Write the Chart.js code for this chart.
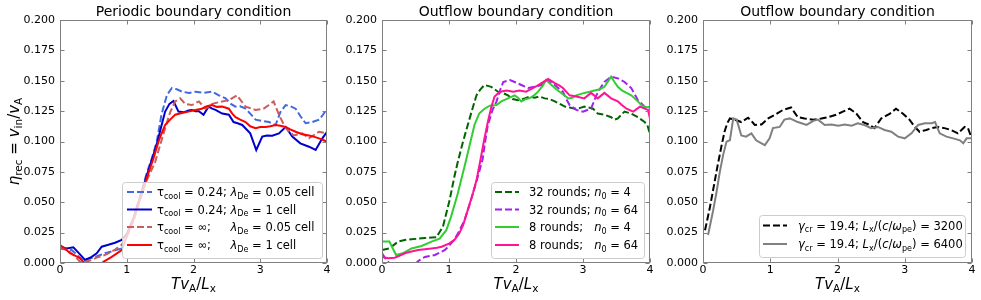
<!DOCTYPE html>
<html>
<head>
<meta charset="utf-8">
<script src="https://cdn.jsdelivr.net/npm/chart.js@4.4.0/dist/chart.umd.min.js"></script>
<style>
  body { margin: 0; background: #fff; }
  #wrap { position: relative; width: 981px; height: 300px; }
  canvas { position: absolute; top: 0; }
</style>
</head>
<body>
<div id="wrap">
  <canvas id="c1" width="332" height="300" style="left:0px"></canvas>
  <canvas id="c2" width="323" height="300" style="left:332px"></canvas>
  <canvas id="c3" width="326" height="300" style="left:655px"></canvas>
</div>
<script>
// axis ticks shared by all three panels
const xTicks = [0, 1, 2, 3, 4];
const yTicks = [0, 0.025, 0.05, 0.075, 0.1, 0.125, 0.15, 0.175, 0.2];

// ---- panel 1: periodic boundary ([T vA/Lx, eta_rec]) ----
const perCool005 = [[0,0.012],[0.1,0.011],[0.175,0.0107],[0.25,0.007],[0.325,0.0025],[0.4,0.003],[0.475,0.004],[0.575,0.006],[0.675,0.008],[0.8,0.010],[0.925,0.012],[1.0,0.022],[1.1,0.036],[1.2,0.055],[1.3,0.074],[1.375,0.086],[1.45,0.1],[1.52,0.122],[1.6,0.138],[1.675,0.144],[1.75,0.143],[1.83,0.141],[1.93,0.14],[2.03,0.141],[2.15,0.14],[2.28,0.141],[2.38,0.138],[2.48,0.1355],[2.56,0.131],[2.63,0.1287],[2.7,0.129],[2.78,0.127],[2.85,0.123],[2.93,0.118],[3.03,0.117],[3.13,0.116],[3.23,0.1136],[3.3,0.124],[3.38,0.130],[3.45,0.129],[3.53,0.127],[3.6,0.121],[3.68,0.115],[3.78,0.116],[3.88,0.118],[3.94,0.122],[4.0,0.127]];
const perCool1 = [[0,0.0134],[0.1,0.012],[0.2,0.0129],[0.275,0.0085],[0.375,0.0025],[0.475,0.005],[0.55,0.008],[0.625,0.0134],[0.725,0.015],[0.825,0.0167],[0.925,0.019],[1.0,0.024],[1.1,0.037],[1.2,0.054],[1.3,0.072],[1.4,0.089],[1.46,0.1],[1.52,0.113],[1.575,0.1246],[1.64,0.131],[1.70,0.1333],[1.775,0.1246],[1.85,0.124],[1.925,0.1255],[1.975,0.126],[2.03,0.125],[2.08,0.125],[2.15,0.122],[2.225,0.1287],[2.28,0.127],[2.33,0.126],[2.43,0.123],[2.53,0.122],[2.60,0.116],[2.66,0.115],[2.73,0.1136],[2.85,0.1067],[2.94,0.093],[3.03,0.104],[3.1,0.105],[3.18,0.1048],[3.28,0.1067],[3.38,0.112],[3.43,0.108],[3.48,0.104],[3.6,0.0985],[3.73,0.0957],[3.83,0.093],[3.93,0.1026],[4.0,0.108]];
const perInf005 = [[0,0.0134],[0.1,0.011],[0.175,0.008],[0.25,0.004],[0.3,0.001],[0.35,0.0005],[0.45,0.002],[0.575,0.005],[0.65,0.006],[0.725,0.008],[0.825,0.011],[0.925,0.015],[1.0,0.022],[1.1,0.034],[1.2,0.052],[1.3,0.068],[1.425,0.083],[1.5,0.097],[1.575,0.111],[1.65,0.124],[1.725,0.133],[1.8,0.1355],[1.875,0.131],[1.975,0.130],[2.08,0.133],[2.18,0.127],[2.28,0.131],[2.43,0.133],[2.53,0.134],[2.65,0.138],[2.72,0.133],[2.78,0.1287],[2.93,0.126],[3.05,0.127],[3.13,0.13],[3.2,0.133],[3.28,0.122],[3.38,0.111],[3.5,0.105],[3.63,0.1067],[3.73,0.1026],[3.88,0.108],[4.0,0.1067]];
const perInf1 = [[0,0.0148],[0.075,0.012],[0.15,0.008],[0.225,0.006],[0.3,0.004],[0.35,0.001],[0.4,-0.003],[0.5,-0.004],[0.6,-0.002],[0.65,0.001],[0.775,0.005],[0.925,0.0107],[1.0,0.0217],[1.1,0.036],[1.2,0.053],[1.3,0.07],[1.4,0.086],[1.475,0.0999],[1.525,0.107],[1.575,0.1136],[1.65,0.118],[1.725,0.122],[1.825,0.1235],[1.925,0.1246],[2.03,0.126],[2.125,0.127],[2.2,0.129],[2.275,0.130],[2.35,0.1285],[2.43,0.1287],[2.53,0.127],[2.58,0.123],[2.63,0.120],[2.7,0.118],[2.78,0.116],[2.85,0.1125],[2.93,0.111],[3.0,0.112],[3.08,0.112],[3.15,0.1125],[3.23,0.1136],[3.3,0.113],[3.38,0.112],[3.45,0.11],[3.53,0.108],[3.63,0.106],[3.73,0.105],[3.8,0.104],[3.88,0.1026],[3.95,0.101],[4.0,0.0999]];

// ---- panel 2: outflow boundary, rounds / n0 ----
const out32n4 = [[0,0.0107],[0.11,0.012],[0.24,0.0176],[0.34,0.019],[0.44,0.0195],[0.54,0.02],[0.64,0.0206],[0.74,0.021],[0.81,0.0211],[0.91,0.030],[1.01,0.052],[1.08,0.071],[1.13,0.083],[1.2,0.098],[1.28,0.1136],[1.35,0.127],[1.41,0.138],[1.47,0.143],[1.53,0.1465],[1.63,0.145],[1.73,0.141],[1.8,0.14],[1.88,0.138],[1.95,0.135],[2.03,0.134],[2.13,0.1355],[2.2,0.137],[2.28,0.136],[2.35,0.137],[2.43,0.1355],[2.5,0.135],[2.58,0.133],[2.65,0.131],[2.73,0.1287],[2.8,0.128],[2.88,0.127],[2.95,0.1275],[3.02,0.1287],[3.08,0.128],[3.15,0.127],[3.22,0.123],[3.32,0.122],[3.42,0.120],[3.47,0.118],[3.52,0.119],[3.57,0.122],[3.62,0.1246],[3.72,0.123],[3.82,0.120],[3.87,0.118],[3.92,0.116],[3.96,0.1136],[4.0,0.106]];
const out32n64 = [[0,0.008],[0.065,0.0025],[0.14,-0.002],[0.3,-0.004],[0.49,-0.001],[0.55,0.002],[0.64,0.005],[0.79,0.0066],[0.94,0.0107],[1.08,0.019],[1.15,0.026],[1.23,0.035],[1.33,0.052],[1.43,0.071],[1.5,0.085],[1.54,0.1],[1.58,0.1136],[1.65,0.126],[1.71,0.133],[1.76,0.142],[1.81,0.149],[1.91,0.1506],[1.98,0.149],[2.08,0.1465],[2.18,0.144],[2.28,0.145],[2.38,0.1465],[2.45,0.1506],[2.52,0.149],[2.58,0.1465],[2.65,0.143],[2.70,0.141],[2.75,0.135],[2.80,0.130],[2.90,0.126],[3.0,0.1246],[3.12,0.127],[3.2,0.138],[3.26,0.144],[3.32,0.149],[3.42,0.1534],[3.52,0.152],[3.62,0.149],[3.72,0.144],[3.77,0.139],[3.82,0.134],[3.92,0.1287],[4.0,0.127]];
const out8n4 = [[0,0.0176],[0.11,0.0176],[0.21,0.0066],[0.31,0.008],[0.44,0.012],[0.59,0.014],[0.74,0.0176],[0.86,0.020],[0.96,0.027],[1.03,0.038],[1.13,0.057],[1.23,0.079],[1.3,0.095],[1.38,0.1136],[1.45,0.123],[1.53,0.127],[1.61,0.1295],[1.71,0.130],[1.78,0.133],[1.88,0.1355],[1.98,0.138],[2.03,0.136],[2.08,0.133],[2.15,0.135],[2.2,0.1355],[2.27,0.138],[2.33,0.141],[2.4,0.146],[2.45,0.1506],[2.53,0.1465],[2.6,0.143],[2.65,0.141],[2.72,0.138],[2.78,0.1355],[2.84,0.136],[2.90,0.138],[2.96,0.139],[3.02,0.140],[3.1,0.141],[3.17,0.142],[3.25,0.143],[3.32,0.145],[3.38,0.15],[3.42,0.1534],[3.47,0.149],[3.52,0.145],[3.58,0.142],[3.65,0.140],[3.72,0.138],[3.77,0.1355],[3.82,0.133],[3.87,0.130],[3.93,0.128],[4.0,0.1287]];
const out8n64 = [[0,0.005],[0.09,0.004],[0.19,0.0044],[0.26,0.006],[0.34,0.008],[0.44,0.0095],[0.54,0.0107],[0.64,0.0113],[0.74,0.012],[0.82,0.0125],[0.89,0.0134],[1.0,0.016],[1.08,0.019],[1.15,0.024],[1.21,0.031],[1.26,0.04],[1.31,0.049],[1.36,0.058],[1.41,0.068],[1.47,0.085],[1.52,0.1],[1.58,0.116],[1.63,0.128],[1.68,0.137],[1.76,0.141],[1.86,0.142],[1.96,0.141],[2.05,0.142],[2.15,0.141],[2.25,0.144],[2.32,0.146],[2.38,0.148],[2.48,0.1514],[2.58,0.148],[2.65,0.146],[2.70,0.144],[2.80,0.138],[2.90,0.137],[3.02,0.1355],[3.12,0.140],[3.22,0.1355],[3.32,0.140],[3.42,0.1355],[3.52,0.133],[3.58,0.13],[3.65,0.127],[3.75,0.1246],[3.85,0.1287],[3.92,0.127],[3.97,0.126],[4.0,0.119]];

// ---- panel 3: outflow boundary, box size ----
const outL3200 = [[0.03,0.027],[0.1,0.045],[0.17,0.066],[0.22,0.081],[0.27,0.095],[0.32,0.108],[0.36,0.115],[0.40,0.119],[0.47,0.118],[0.57,0.116],[0.67,0.1196],[0.72,0.117],[0.77,0.1136],[0.87,0.114],[0.97,0.119],[1.07,0.122],[1.19,0.126],[1.31,0.128],[1.36,0.124],[1.41,0.120],[1.51,0.119],[1.64,0.118],[1.76,0.119],[1.86,0.120],[1.98,0.122],[2.08,0.1246],[2.18,0.127],[2.28,0.123],[2.38,0.116],[2.48,0.1136],[2.55,0.111],[2.65,0.119],[2.78,0.123],[2.87,0.127],[2.97,0.123],[3.07,0.118],[3.15,0.112],[3.22,0.108],[3.32,0.1095],[3.40,0.111],[3.49,0.112],[3.59,0.111],[3.69,0.1095],[3.79,0.1067],[3.89,0.112],[3.94,0.111],[3.98,0.105],[4.0,0.104]];
const outL6400 = [[0.075,0.023],[0.15,0.043],[0.2,0.058],[0.25,0.075],[0.3,0.089],[0.35,0.0999],[0.40,0.101],[0.45,0.119],[0.50,0.118],[0.57,0.105],[0.64,0.104],[0.72,0.1067],[0.79,0.101],[0.87,0.0985],[0.92,0.097],[0.99,0.1026],[1.04,0.111],[1.14,0.112],[1.21,0.118],[1.29,0.119],[1.41,0.116],[1.54,0.1136],[1.64,0.117],[1.71,0.118],[1.81,0.1136],[1.91,0.114],[2.01,0.113],[2.11,0.114],[2.21,0.113],[2.30,0.115],[2.40,0.1136],[2.50,0.111],[2.60,0.112],[2.70,0.1095],[2.80,0.108],[2.90,0.104],[3.0,0.1026],[3.10,0.1067],[3.20,0.1136],[3.30,0.115],[3.40,0.115],[3.45,0.116],[3.52,0.1067],[3.62,0.104],[3.72,0.1026],[3.82,0.101],[3.87,0.0985],[3.92,0.1026],[4.0,0.1026]];

const FONT = "'DejaVu Sans', sans-serif";
const spineColor = '#7f7f7f';
const DASH = [7, 3];
const LEG_SIZE = 11.5;

// draw a run of [text, style] pieces: r = roman, i = italic, s = subscript
function rich(ctx, parts, x, y, size, draw) {
  let cx = x;
  for (const [t, st] of parts) {
    const sub = st === 's';
    const fs = sub ? size * 0.7 : size;
    ctx.font = (st === 'i' ? 'italic ' : '') + fs + 'px ' + FONT;
    if (draw) ctx.fillText(t, cx, sub ? y + size * 0.22 : y);
    cx += ctx.measureText(t).width;
  }
  return cx - x;
}

const tcool = [['τ', 'r'], ['cool', 's']];
const lamDe = [['λ', 'i'], ['De', 's']];
const n0 = [['n', 'i'], ['0', 's']];
const xLabel = [['T', 'i'], ['v', 'i'], ['A', 's'], ['/', 'r'], ['L', 'i'], ['x', 's']];
const yLabel = [['η', 'i'], ['rec', 's'], [' = ', 'r'], ['v', 'i'], ['in', 's'], ['/', 'r'], ['v', 'i'], ['A', 's']];

// per-panel decorations (titles, legends), keyed by canvas id
const decor = {
  c1: {
    title: 'Periodic boundary condition', yLabel: true,
    legend: { box: [122, 182, 322, 258], line: [127, 152], tx: 157, rows: [192, 209.5, 227, 245],
      items: [
        { color: '#4169e1', dash: true, a: [...tcool, [' = 0.24; ', 'r']], b: [...lamDe, [' = 0.05 cell', 'r']] },
        { color: '#0000cd', dash: false, a: [...tcool, [' = 0.24; ', 'r']], b: [...lamDe, [' = 1 cell', 'r']] },
        { color: '#cd5c5c', dash: true, a: [...tcool, [' = ∞;', 'r']], b: [...lamDe, [' = 0.05 cell', 'r']] },
        { color: '#ff0000', dash: false, a: [...tcool, [' = ∞;', 'r']], b: [...lamDe, [' = 1 cell', 'r']] }
      ] }
  },
  c2: {
    title: 'Outflow boundary condition',
    legend: { box: [159, 182, 312, 258], line: [163, 187], tx: 197, rows: [192, 209.5, 227, 245],
      items: [
        { color: '#006400', dash: true, a: [['32 rounds; ', 'r']], b: [...n0, [' = 4', 'r']] },
        { color: '#a020f0', dash: true, a: [['32 rounds; ', 'r']], b: [...n0, [' = 64', 'r']] },
        { color: '#32cd32', dash: false, a: [['8 rounds; ', 'r']], b: [...n0, [' = 4', 'r']] },
        { color: '#ff1493', dash: false, a: [['8 rounds; ', 'r']], b: [...n0, [' = 64', 'r']] }
      ] }
  },
  c3: {
    title: 'Outflow boundary condition',
    legend: { box: [104, 215, 310, 257], line: [108, 132], tx: 143, rows: [225.5, 244],
      items: [
        { color: '#000000', dash: true, a: [['γ', 'i'], ['cr', 's'], [' = 19.4; ', 'r'], ['L', 'i'], ['x', 's'], ['/(', 'r'], ['c', 'i'], ['/', 'r'], ['ω', 'i'], ['pe', 's'], [') = 3200', 'r']], b: [] },
        { color: '#808080', dash: false, a: [['γ', 'i'], ['cr', 's'], [' = 19.4; ', 'r'], ['L', 'i'], ['x', 's'], ['/(', 'r'], ['c', 'i'], ['/', 'r'], ['ω', 'i'], ['pe', 's'], [') = 6400', 'r']], b: [] }
      ] }
  }
};

function roundBox(ctx, x0, y0, x1, y1, r) {
  ctx.beginPath();
  ctx.moveTo(x0 + r, y0);
  ctx.lineTo(x1 - r, y0); ctx.arcTo(x1, y0, x1, y0 + r, r);
  ctx.lineTo(x1, y1 - r); ctx.arcTo(x1, y1, x1 - r, y1, r);
  ctx.lineTo(x0 + r, y1); ctx.arcTo(x0, y1, x0, y1 - r, r);
  ctx.lineTo(x0, y0 + r); ctx.arcTo(x0, y0, x0 + r, y0, r);
  ctx.closePath();
}

const panelPlugin = {
  id: 'panelDecor',
  afterDatasetsDraw(chart) {
    const { ctx, chartArea: a, scales: { x, y } } = chart;
    const d = decor[chart.canvas.id];
    ctx.save();
    // frame and inward ticks on all four sides
    ctx.strokeStyle = spineColor;
    ctx.lineWidth = 1;
    const L = a.left + 0.5, R = a.right - 0.5, T = a.top + 0.5, B = a.bottom - 0.5;
    ctx.strokeRect(L, T, R - L, B - T);
    ctx.beginPath();
    for (const v of xTicks) {
      const px = Math.round(x.getPixelForValue(v)) + 0.5;
      ctx.moveTo(px, B); ctx.lineTo(px, B - 4);
      ctx.moveTo(px, T); ctx.lineTo(px, T + 4);
    }
    for (const v of yTicks) {
      const py = Math.round(y.getPixelForValue(v)) + 0.5;
      ctx.moveTo(L, py); ctx.lineTo(L + 4, py);
      ctx.moveTo(R, py); ctx.lineTo(R - 4, py);
    }
    ctx.stroke();

    // legend
    const lg = d.legend;
    roundBox(ctx, lg.box[0] + 0.5, lg.box[1] + 0.5, lg.box[2] + 0.5, lg.box[3] + 0.5, 3);
    ctx.fillStyle = 'rgba(255,255,255,0.8)';
    ctx.fill();
    ctx.strokeStyle = '#cccccc';
    ctx.stroke();
    ctx.fillStyle = '#000';
    ctx.textBaseline = 'alphabetic';
    ctx.textAlign = 'left';
    let bx = 0;
    for (const it of lg.items) bx = Math.max(bx, rich(ctx, it.a, 0, 0, LEG_SIZE, false));
    lg.items.forEach((it, i) => {
      const yc = lg.rows[i];
      ctx.strokeStyle = it.color;
      ctx.lineWidth = 2;
      ctx.setLineDash(it.dash ? DASH : []);
      ctx.beginPath();
      ctx.moveTo(lg.line[0], yc); ctx.lineTo(lg.line[1], yc);
      ctx.stroke();
      ctx.setLineDash([]);
      rich(ctx, it.a, lg.tx, yc + 4.2, LEG_SIZE, true);
      rich(ctx, it.b, lg.tx + bx, yc + 4.2, LEG_SIZE, true);
    });

    // title
    const cx = (a.left + a.right) / 2;
    ctx.font = '14px ' + FONT;
    ctx.textAlign = 'center';
    ctx.fillText(d.title, cx, 16);

    // x label
    ctx.textAlign = 'left';
    const wx = rich(ctx, xLabel, 0, 0, 15, false);
    rich(ctx, xLabel, cx - wx / 2, 289, 15, true);

    // y label (first panel only)
    if (d.yLabel) {
      const wy = rich(ctx, yLabel, 0, 0, 15, false);
      ctx.translate(19, (a.top + a.bottom) / 2);
      ctx.rotate(-Math.PI / 2);
      rich(ctx, yLabel, -wy / 2, 0, 15, true);
    }
    ctx.restore();
  }
};

function line(pts, color, dashed, order) {
  return {
    data: pts.map(p => ({ x: p[0], y: p[1] })),
    borderColor: color, borderWidth: 2, borderDash: dashed ? DASH : [],
    pointRadius: 0, tension: 0, fill: false, order: order
  };
}

function makePanel(id, datasets, axisWidth, padRight) {
  return new Chart(document.getElementById(id), {
    type: 'line',
    data: { datasets: datasets },
    options: {
      responsive: false,
      animation: false,
      layout: { padding: { left: 0, right: padRight, top: 20, bottom: 0 } },
      plugins: { legend: { display: false }, tooltip: { enabled: false } },
      scales: {
        x: {
          type: 'linear', min: 0, max: 4,
          afterBuildTicks: s => { s.ticks = xTicks.map(v => ({ value: v })); },
          afterFit: s => { s.height = 37; },
          grid: { display: false, drawTicks: false },
          border: { display: false },
          ticks: { padding: 1, color: '#000', font: { family: FONT, size: 11 }, callback: v => String(v) }
        },
        y: {
          min: 0, max: 0.2,
          afterBuildTicks: s => { s.ticks = yTicks.map(v => ({ value: v })); },
          afterFit: s => { s.width = axisWidth; },
          grid: { display: false, drawTicks: false },
          border: { display: false },
          ticks: { padding: 5, color: '#000', font: { family: FONT, size: 11 }, callback: v => v.toFixed(3) }
        }
      }
    },
    plugins: [panelPlugin]
  });
}

makePanel('c1', [
  line(perCool005, '#4169e1', true, 3),
  line(perCool1, '#0000cd', false, 2),
  line(perInf005, '#cd5c5c', true, 1),
  line(perInf1, '#ff0000', false, 0)
], 60, 5);

makePanel('c2', [
  line(out32n4, '#006400', true, 3),
  line(out32n64, '#a020f0', true, 2),
  line(out8n4, '#32cd32', false, 1),
  line(out8n64, '#ff1493', false, 0)
], 50, 5);

makePanel('c3', [
  line(outL3200, '#000000', true, 1),
  line(outL6400, '#808080', false, 0)
], 48, 9);
</script>
</body>
</html>
